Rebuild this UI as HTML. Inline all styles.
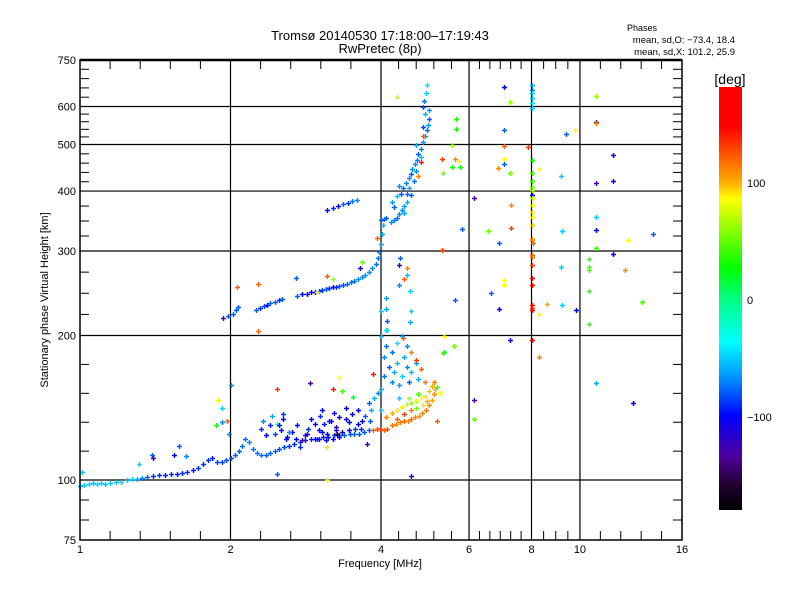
<!DOCTYPE html>
<html><head><meta charset="utf-8">
<style>
html,body{margin:0;padding:0;background:#fff;}
svg{display:block;font-family:"Liberation Sans",sans-serif;}
</style></head>
<body>
<svg id="chart" width="800" height="600" viewBox="0 0 800 600" xmlns="http://www.w3.org/2000/svg">
<defs>
<linearGradient id="cbar" x1="0" y1="0" x2="0" y2="1">
<stop offset="0" stop-color="#ff0000"/>
<stop offset="0.0944" stop-color="#ff0000"/>
<stop offset="0.2222" stop-color="#ffa800"/>
<stop offset="0.2639" stop-color="#ffff00"/>
<stop offset="0.4278" stop-color="#00ff00"/>
<stop offset="0.5" stop-color="#00ff80"/>
<stop offset="0.6028" stop-color="#00ffff"/>
<stop offset="0.6944" stop-color="#0088ff"/>
<stop offset="0.7778" stop-color="#0000ff"/>
<stop offset="0.8722" stop-color="#5000a0"/>
<stop offset="0.94" stop-color="#200030"/>
<stop offset="1" stop-color="#000000"/>
</linearGradient>
</defs>
<g id="grid"></g>
<g id="points"></g>
<g id="axes"></g>
<text x="380" y="40" font-size="13" text-anchor="middle">Tromsø 20140530 17:18:00–17:19:43</text>
<text x="380" y="53" font-size="13" text-anchor="middle">RwPretec (8p)</text>
<text x="642" y="31" font-size="9" text-anchor="middle">Phases</text>
<text x="735" y="43" font-size="9.5" text-anchor="end">mean, sd,O: −73.4, 18.4</text>
<text x="735" y="55" font-size="9.5" text-anchor="end">mean, sd,X: 101.2, 25.9</text>
<text x="380" y="567" font-size="11" text-anchor="middle">Frequency [MHz]</text>
<text x="0" y="0" font-size="11" text-anchor="middle" transform="translate(48,300) rotate(-90)">Stationary phase Virtual Height [km]</text>
<rect x="719" y="87" width="23" height="423" fill="url(#cbar)"/>
<text x="730" y="84" font-size="14" text-anchor="middle">[deg]</text>
<g id="cbticks"></g>
</svg>
<script>
// axes: x log2 1..16 on 80..682 ; y log10 75..750 on 540..60
const xTickVals = [1, 2, 4, 6, 8, 10, 16];
const xTickLabels = ["1", "2", "4", "6", "8", "10", "16"];
const yTickVals = [75, 100, 200, 300, 400, 500, 600, 750];
const yTickLabels = ["75", "100", "200", "300", "400", "500", "600", "750"];
const cbTickVals = [100, 0, -100];
const cbTickLabels = ["100", "0", "−100"];

const freqs = [
1.00,1.02,1.04,1.06,1.08,1.10,1.12,1.15,1.18,1.21,1.24,1.27,1.30,1.33,1.36,1.40,1.44,1.48,1.52,1.56,1.60,1.64,1.68,1.72,1.76,1.80,1.84,1.88,1.92,1.96,2.00,2.04,2.08,2.11,2.14,2.18,2.22,2.26,2.30,2.35,2.40,2.45,2.50,2.56,2.62,2.68,2.75,2.82,2.90,2.98,3.06,3.14,3.22,3.30,3.38,3.46,3.54,3.62,3.70,3.78,
3.85,3.92,3.98,4.05,4.12,4.20,4.28,4.36,4.44,4.52,4.60,4.68,4.76,4.84,4.92,5.00,5.05,5.10,5.12,
4.10,4.20,4.30,4.40,4.50,4.60,4.70,4.80,4.90,5.00,5.05,5.10,4.30,4.45,4.60,4.70,4.85,4.95,4.55,4.75,
2.30,2.32,2.36,2.40,2.42,2.45,2.48,2.52,2.55,2.58,2.65,2.72,2.78,2.82,2.86,2.90,2.95,3.00,3.02,3.05,3.08,3.12,3.18,3.22,3.25,3.30,3.35,3.40,3.45,3.50,3.55,3.60,3.66,3.72,3.78,3.82,3.88,3.95,3.00,3.10,3.20,3.30,2.70,2.75,
4.00,4.05,4.05,4.10,4.00,4.15,4.20,4.25,4.30,4.35,4.40,4.45,4.50,4.55,4.60,4.70,4.75,4.20,4.30,4.50,4.60,4.70,4.80,4.90,4.40,4.10,4.35,4.00,5.60,4.00,4.10,4.45,4.50,4.35,
1.93,1.98,2.02,2.05,2.07,2.25,2.29,2.33,2.37,2.40,2.45,2.50,2.53,2.72,2.78,2.84,2.90,2.95,3.00,3.05,3.10,3.15,3.20,3.25,3.30,3.36,3.42,3.48,3.54,3.60,3.66,3.72,3.78,3.84,3.90,3.94,3.97,4.00,4.02,4.03,4.00,
4.05,4.10,4.18,4.25,4.30,4.35,4.40,4.45,4.50,4.38,4.42,4.48,4.55,4.60,4.62,4.68,4.72,4.75,4.80,4.85,4.90,4.94,4.97,5.00,4.90,4.86,4.88,4.92,4.95,
4.20,4.30,4.25,4.35,4.50,4.55,4.60,4.45,4.65,4.70,4.80,4.70,4.85,4.98,4.75,4.80,4.85,
3.12,3.20,3.28,3.36,3.44,3.50,3.58,
7.05,7.25,10.78,5.65,5.65,7.05,10.78,10.78,9.36,9.78,5.54,7.05,7.86,11.67,5.29,5.62,5.72,7.05,7.05,5.54,5.75,6.85,5.32,7.25,8.29,9.15,10.78,11.67,6.14,7.28,10.78,10.78,5.81,6.55,7.28,9.19,14.0,12.5,6.88,8.06,10.78,5.29,10.42,11.67,10.42,10.42,12.3,9.15,7.05,7.05,10.42,6.63,13.3,5.62,8.59,9.19,6.88,9.82,8.29,10.42,5.34,7.25,5.34,8.29,10.78,5.25,6.14,12.74,6.14,
8.0,8.0,8.0,8.0,8.0,8.0,8.0,8.0,8.0,8.0,8.0,8.0,8.0,8.0,8.0,8.0,8.0,8.0,8.0,8.0,8.0,8.0,8.0,8.0,8.0,8.0,8.0,8.0,
1.89,1.92,1.87,1.92,1.97,1.99,2.00,1.39,1.40,1.54,1.58,1.63,1.31,1.01,
2.48,2.88,3.20,3.30,3.35,3.51,3.86,3.12,3.26,3.75,2.48,4.60,3.12,5.32,5.18,5.18,
2.06,2.27,2.71,3.12,3.21,3.66,3.63,3.92,2.27,2.98,4.37,4.50,4.35,4.57,4.60,4.57,4.10,4.12,4.12,4.42,4.30,
2.60,2.85,3.05,3.25,3.45,3.65,2.95,3.15,3.40,3.60,3.80,2.50,2.55,2.62
];
const heights = [
97,97.5,98,98.5,98,98.5,98,98.5,99,99,100,100.5,100.5,101,101.5,102,102.5,102.5,103,103,103.5,104,105,106,108,110,111,109,109,110,111,113,115,118,122,120,116,114,113,113,114,115,116,117,118,119,120,121,122,122,123,123,124,124,124,125,125,125,126,127,
127,128,128,127,128,130,131,132,133,133,134,135,136,138,140,143,147,151,155,
135,138,140,142,144,145,146,148,150,153,157,160,134,137,140,141,143,146,148,151,
128,133,124,130,136,125,131,127,134,122,126,130,121,124,128,134,122,127,136,140,131,125,133,138,129,135,126,141,132,137,128,140,133,136,145,140,148,152,122,121,122,123,122,117,
155,165,180,190,200,172,160,168,175,158,165,180,172,160,168,175,162,185,193,190,185,178,170,160,200,205,148,140,190,225,240,262,268,255,
218,220,222,226,229,226,228,230,232,234,235,237,238,242,244,244,246,247,248,249,250,251,252,253,254,255,256,258,260,262,265,268,271,276,282,290,298,310,325,340,348,
350,352,345,348,352,358,365,372,380,395,405,415,425,435,445,455,465,478,490,505,520,535,550,565,580,600,615,640,665,
380,390,370,410,395,405,392,360,420,440,470,500,545,590,430,460,520,
366,369,372,376,378,381,384,
659,613,631,565,538,536,557,554,526,536,499,497,494,475,466,466,462,466,455,449,449,447,436,436,445,430,416,420,387,374,353,332,333,330,335,330,326,316,312,312,304,301,289,296,278,274,274,278,261,255,248,245,235,237,233,231,227,226,222,211,200,196,185,180,159,152,147,145,134,
665,650,640,625,610,595,465,436,420,408,402,392,387,374,362,353,340,318,316,295,292,280,263,255,232,228,226,196,
147,141,130,132,133,125,158,113,111,113,118,112,108,104,
155,159,155,164,153,149,166,117,125,119,103,102,100,184,156,133,
252,256,264,266,262,284,276,320,204,246,290,277,280,248,225,213,227,214,205,198,628,
123,125,126,127,127,128,131,133,134,131,133,130,137,126
];
const phases = [
-55,-55,-50,-55,-50,-50,-55,-50,-55,-50,-55,-50,-60,-70,-80,-90,-90,-95,-90,-95,-90,-90,-95,-90,-90,-90,-95,-85,-85,-85,-80,-80,-80,-75,-75,-70,-75,-75,-75,-80,-80,-80,-85,-85,-90,-90,-90,-95,-95,-90,-95,-95,-90,-85,-80,-85,-80,-80,-80,-80,
120,125,130,120,125,115,110,115,120,110,115,110,105,110,115,110,100,110,100,
110,100,90,80,70,60,75,85,90,95,100,110,120,130,115,50,90,100,60,40,
-90,-70,-100,-95,-60,-85,-20,-100,-100,-100,-110,-100,-130,-110,-90,-100,-100,-100,-90,-100,-95,-110,-110,-100,-120,-100,-110,-100,-100,-100,-90,-100,-100,-80,-80,-60,-60,-70,-100,-100,-100,-110,-100,-90,
-60,-75,-70,-75,-55,-80,-70,-60,-55,-65,-50,-60,-70,-80,-55,-65,-60,-75,-45,-70,110,130,120,115,-60,-50,-50,-50,50,-50,-65,120,-55,-70,
-130,-80,-80,-80,-80,-80,-90,-85,-100,-80,-80,-90,-80,-80,-100,-110,-100,-100,-85,-90,-80,-90,-100,-90,-80,-85,-80,-75,-75,-70,-70,-65,-70,-70,-75,-75,-70,-60,-60,-55,-80,
-75,-80,-70,-70,-75,-70,-70,-65,-60,-80,-75,-70,-70,-80,-65,-70,-75,-80,-70,-65,-70,-75,-65,-80,-60,-80,-75,-50,-45,
-65,-55,-80,-70,-75,-60,-80,-60,-75,-70,-55,-60,-85,-65,110,140,120,
-100,-90,-100,-80,-90,-75,-70,
-100,60,60,30,30,-80,-100,110,-80,85,60,120,130,-110,130,110,80,85,-80,30,30,110,50,50,85,-50,-130,-100,-130,110,-50,-100,-80,50,130,-50,-80,85,-80,120,40,130,40,-100,40,40,110,-50,85,85,40,-80,40,-80,100,-50,-100,-100,85,40,85,-110,30,110,-60,85,-130,-100,50,
-60,-75,-50,-55,-45,-50,30,40,40,55,60,-100,70,80,90,85,95,100,110,120,115,130,150,150,140,130,145,150,
85,-50,30,-70,120,-70,-70,-80,-130,-100,-80,-70,-50,-50,
130,-130,140,85,40,20,140,90,-170,-130,-80,-120,80,40,40,120,
120,120,-80,120,60,50,-110,120,120,85,-80,110,-120,-50,-50,-60,-60,-80,-45,120,70,
-100,-110,-100,-120,-100,-90,-110,-100,-100,-100,-80,-100,-90,-70
];

const X0 = 80, X1 = 682, Y0 = 540, Y1 = 60;
function xScale(f){ return X0 + (X1 - X0) * Math.log2(f) / 4; }
function yScale(h){ return Y0 - (Y0 - Y1) * Math.log10(h / 75); }
function hex(n){ return ('0' + Math.round(Math.max(0,Math.min(255,n))).toString(16)).slice(-2); }
const cStops = [[-180,[0,0,0]],[-155,[32,0,48]],[-134,[80,0,160]],[-100,[0,0,255]],[-70,[0,136,255]],[-37,[0,255,255]],[0,[0,255,128]],[26,[0,255,0]],[85,[255,255,0]],[100,[255,168,0]],[146,[255,0,0]],[180,[255,0,0]]];
function colorOf(p){
  for (let i = 0; i < cStops.length - 1; i++) {
    const a = cStops[i], b = cStops[i+1];
    if (p <= b[0]) {
      const t = Math.max(0, (p - a[0]) / (b[0] - a[0]));
      return '#' + hex(a[1][0] + (b[1][0]-a[1][0])*t) + hex(a[1][1] + (b[1][1]-a[1][1])*t) + hex(a[1][2] + (b[1][2]-a[1][2])*t);
    }
  }
  return '#ff0000';
}
const NS = 'http://www.w3.org/2000/svg';
function mk(tag, attrs, parent){
  const e = document.createElementNS(NS, tag);
  for (const k in attrs) e.setAttribute(k, attrs[k]);
  parent.appendChild(e);
  return e;
}
const grid = document.getElementById('grid');
const axes = document.getElementById('axes');
const pts = document.getElementById('points');

[2,4,6,8,10].forEach(f => {
  const l = mk('line', {x1: xScale(f), x2: xScale(f), y1: Y1, y2: Y0, stroke: '#000', 'stroke-width': 1.2}, grid);
  
  
});
[100,200,300,400,500,600].forEach(h => {
  const l = mk('line', {x1: X0, x2: X1, y1: yScale(h), y2: yScale(h), stroke: '#000', 'stroke-width': 1.2}, grid);
  
  
});

for (let i = 0; i < freqs.length; i++) {
  const x = Math.round(xScale(freqs[i])), y = Math.round(yScale(heights[i]));
  const c = colorOf(phases[i]);
  const p = mk('path', {d: `M${x-2} ${y+0.5}h5M${x+0.5} ${y-2}v5`, stroke: c, 'stroke-width': 1.4, fill: 'none'}, pts);
  
  
}

const frame = mk('rect', {x: X0, y: Y1, width: X1 - X0, height: Y0 - Y1, fill: 'none', stroke: '#000', 'stroke-width': 1.5}, axes);


mk('line', {x1: X0, x2: X1, y1: Y1, y2: Y1, stroke: '#000', 'stroke-width': 2.5}, axes);

const xMinorCounts = [[1,2,4],[2,4,4],[4,6,4],[6,8,5],[8,10,3],[10,16,4]];
xMinorCounts.forEach(([a,b,n]) => {
  const xa = xScale(a), xb = xScale(b);
  for (let k = 1; k <= n; k++) {
    const x = xa + (xb - xa) * k / (n + 1);
    mk('line', {x1: x, x2: x, y1: Y0, y2: Y0 - 9, stroke: '#000', 'stroke-width': 1}, axes);
    mk('line', {x1: x, x2: x, y1: Y1, y2: Y1 + 9, stroke: '#000', 'stroke-width': 1}, axes);
  }
});
const yMinorCounts = [[75,100,2],[100,200,4],[200,300,3],[300,400,3],[400,500,4],[500,600,4],[600,750,4]];
yMinorCounts.forEach(([a,b,n]) => {
  const ya = yScale(a), yb = yScale(b);
  for (let k = 1; k <= n; k++) {
    const y = ya + (yb - ya) * k / (n + 1);
    mk('line', {x1: X0, x2: X0 + 9, y1: y, y2: y, stroke: '#000', 'stroke-width': 1}, axes);
    mk('line', {x1: X1, x2: X1 - 9, y1: y, y2: y, stroke: '#000', 'stroke-width': 1}, axes);
  }
});

xTickVals.forEach((v, i) => {
  const t = mk('text', {x: xScale(v), y: 553, 'font-size': 11, 'text-anchor': 'middle'}, axes);
  t.textContent = xTickLabels[i];
  
  
});
yTickVals.forEach((v, i) => {
  const t = mk('text', {x: 76, y: yScale(v) + 4, 'font-size': 11, 'text-anchor': 'end'}, axes);
  t.textContent = yTickLabels[i];
  
  
});
const cbt = document.getElementById('cbticks');
cbTickVals.forEach((v, i) => {
  const y = 300 - v * 1.17;
  const t = mk('text', {x: 747, y: y + 4, 'font-size': 11}, cbt);
  t.textContent = cbTickLabels[i];
  
  
});
</script>
</body></html>
